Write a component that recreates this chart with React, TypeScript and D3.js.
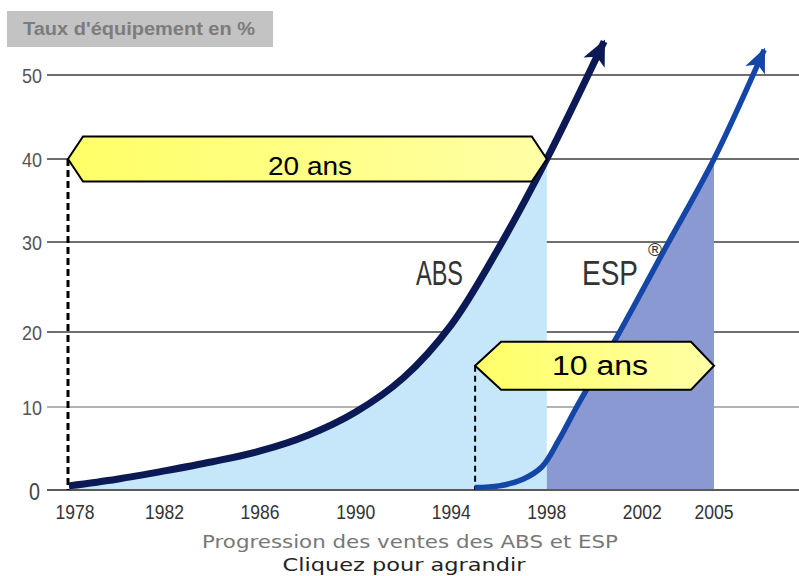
import React from "react";
import * as d3 from "d3";

const absYears = [1978, 1980, 1982, 1984, 1986, 1988, 1990, 1992, 1994, 1996, 1998, 2000.4];
const absValues = [0.5, 1.3, 2.3, 3.4, 4.7, 6.6, 9.4, 13.9, 20.8, 29.4, 40, 54];
const espYears = [1995, 1996, 1997, 1997.8, 1998.5, 1999.25, 2001.05, 2003, 2005, 2007.1];
const espValues = [0.3, 0.5, 1.3, 2.8, 6, 10, 20, 29.5, 40, 53];
const yTicks = [0, 10, 20, 30, 40, 50];
const xTickLabels = ["1978", "1982", "1986", "1990", "1994", "1998", "2002", "2005"];
const spans = [
  { from: 1978, to: 1998, level: 40, label: "20 ans" },
  { from: 1995, to: 2005, level: 15.5, label: "10 ans" },
];

const W = 799;
const H = 576;

export default function App() {
  const x = d3.scaleLinear().domain([1978, 2005]).range([69, 714]);
  const y = d3.scaleLinear().domain([0, 10, 20, 30, 40, 50]).range([490, 407, 332, 242, 159, 75]);

  const absPts: [number, number][] = absYears.map((yr, i) => [x(yr), y(absValues[i])]);
  const espPts: [number, number][] = espYears.map((yr, i) => [x(yr), y(espValues[i])]);

  const curve = d3.curveCatmullRom.alpha(0.5);
  const line = d3.line<[number, number]>().x((d) => d[0]).y((d) => d[1]).curve(curve);
  const area = d3
    .area<[number, number]>()
    .x((d) => d[0])
    .y0(y(0))
    .y1((d) => d[1])
    .curve(curve);

  const spanPath = (s: { from: number; to: number; level: number }, i: number) => {
    const cy = y(s.level);
    const x0 = x(s.from) - (i === 0 ? 1 : 0);
    const x1 = x(s.to);
    const hh = i === 0 ? 22.5 : 24;
    const ins = i === 0 ? 15 : 26;
    const insR = i === 0 ? 15 : 23;
    return `M${x0},${cy} L${x0 + ins},${cy - hh} L${x1 - insR},${cy - hh} L${x1},${cy} L${x1 - insR},${cy + hh} L${x0 + ins},${cy + hh} Z`;
  };

  const gridStroke = (t: number) => (t === 0 ? "#5a5a5a" : t === 10 ? "#9a9a9a" : "#6e6e6e");
  const gridWidth = (t: number) => (t === 10 ? 1.5 : 2);

  return (
    <div style={{ position: "absolute", left: 0, top: 0 }}>
      <svg width={W} height={H} style={{ display: "block", background: "#fff" }} fontFamily="'Liberation Sans', Arial, sans-serif">
        <defs>
          <clipPath id="absClip">
            <rect x={x(1978)} y={0} width={x(1998) - x(1978)} height={H} />
          </clipPath>
          <clipPath id="espClip">
            <rect x={x(1998)} y={0} width={x(2005) - x(1998)} height={H} />
          </clipPath>
          <linearGradient id="yel" x1="0" x2="1" y1="0" y2="0">
            <stop offset="0" stopColor="#ffff66" />
            <stop offset="0.6" stopColor="#ffff8c" />
            <stop offset="1" stopColor="#ffffa6" />
          </linearGradient>
          <marker id="headAbs" markerUnits="userSpaceOnUse" markerWidth="32" markerHeight="32" viewBox="-26 -13 30 26" refX="0" refY="0" orient="auto">
            <path d="M2,0 L-22,-11 L-16,0 L-22,11 Z" fill="#0b1a55" />
          </marker>
          <marker id="headEsp" markerUnits="userSpaceOnUse" markerWidth="32" markerHeight="32" viewBox="-26 -13 30 26" refX="0" refY="0" orient="auto">
            <path d="M2,0 L-21,-10 L-15,0 L-21,10 Z" fill="#1446a8" />
          </marker>
        </defs>

        {/* title box */}
        <rect x={7} y={11} width={266} height={36} fill="#c3c3c3" />
        <text x={23} y={35} fontSize={18} fontWeight="bold" fill="#7c7c7c" textLength={232} lengthAdjust="spacingAndGlyphs">
          Taux d'équipement en %
        </text>

        {/* gridlines */}
        {yTicks.map((t) => (
          <line key={t} x1={47} x2={W} y1={y(t)} y2={y(t)} stroke={gridStroke(t)} strokeWidth={gridWidth(t)} />
        ))}
        {yTicks.map((t) =>
          t === 0 ? (
            <text key={t} x={40} y={500} fontSize={24} fill="#444" textAnchor="end" textLength={11} lengthAdjust="spacingAndGlyphs">
              {t}
            </text>
          ) : (
            <text key={t} x={42} y={y(t) + 7.5} fontSize={20} fill="#555" textAnchor="end" textLength={20} lengthAdjust="spacingAndGlyphs">
              {t}
            </text>
          )
        )}

        {/* fills */}
        <path d={area(absPts) || ""} fill="#c6e6fa" clipPath="url(#absClip)" />
        <path d={area(espPts) || ""} fill="#8a99d2" clipPath="url(#espClip)" />
        <line x1={47} x2={W} y1={y(0)} y2={y(0)} stroke="#5a5a5a" strokeWidth={2} />

        {/* dashed guides */}
        {spans.map((s, i) => (
          <line key={i} x1={x(s.from) - (i === 0 ? 1 : 0)} x2={x(s.from) - (i === 0 ? 1 : 0)} y1={y(s.level)} y2={y(0)} stroke="#000" strokeWidth={i === 0 ? 3 : 2} strokeDasharray={i === 0 ? "7,4" : "6,4"} />
        ))}

        {/* curves */}
        <path d={line(absPts) || ""} fill="none" stroke="#0b1a55" strokeWidth={7} markerEnd="url(#headAbs)" />
        <path d={line(espPts) || ""} fill="none" stroke="#1446a8" strokeWidth={5.5} markerEnd="url(#headEsp)" />

        {/* spans */}
        {spans.map((s, i) => (
          <g key={s.label}>
            <path d={spanPath(s, i)} fill="url(#yel)" stroke="#000" strokeWidth={2} />
            <text
              x={i === 0 ? 310 : 600}
              y={i === 0 ? 175 : 375}
              fontSize={i === 0 ? 25 : 27}
              textAnchor="middle"
              fill="#000"
              textLength={i === 0 ? 84 : 96}
              lengthAdjust="spacingAndGlyphs"
            >
              {s.label}
            </text>
          </g>
        ))}

        {/* series labels */}
        <text x={416} y={285} fontSize={35} fill="#333" textLength={47} lengthAdjust="spacingAndGlyphs">ABS</text>
        <text x={582} y={285} fontSize={35} fill="#333" textLength={56} lengthAdjust="spacingAndGlyphs">ESP</text>
        <text x={648} y={256} fontSize={19} fill="#333">®</text>

        {/* x tick labels */}
        {xTickLabels.map((l, i) => (
          <text key={l} x={x(+l) + (i === 0 ? 6 : 0)} y={519} fontSize={20} fill="#333" textAnchor="middle" textLength={39} lengthAdjust="spacingAndGlyphs">
            {l}
          </text>
        ))}

        {/* caption */}
        <text x={410} y={548} fontSize={18} fill="#777" textAnchor="middle" fontFamily="'DejaVu Sans', Verdana, sans-serif" textLength={416} lengthAdjust="spacingAndGlyphs">
          Progression des ventes des ABS et ESP
        </text>
        <text x={404} y={571} fontSize={18} fill="#222" textAnchor="middle" fontFamily="'DejaVu Sans', Verdana, sans-serif" textLength={243} lengthAdjust="spacingAndGlyphs">
          Cliquez pour agrandir
        </text>
      </svg>
    </div>
  );
}
